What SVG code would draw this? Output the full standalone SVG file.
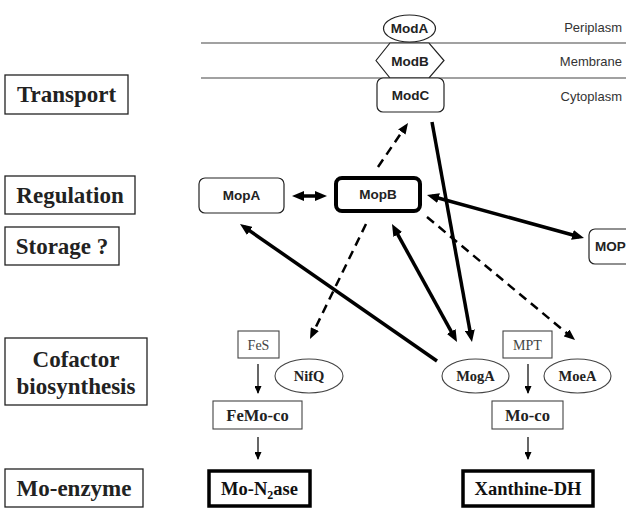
<svg xmlns="http://www.w3.org/2000/svg" width="626" height="508" viewBox="0 0 626 508">
  <style>
    .bg { fill: #ffffff; }
    .cat { fill: #ffffff; stroke: #222; stroke-width: 1.3; }
    .cat-t { font-family: "Liberation Serif", "Times New Roman", serif; font-weight: bold; font-size: 23px; fill: #222; text-anchor: middle; }
    .prot { fill: #ffffff; stroke: #222; stroke-width: 1.2; }
    .prot-thick { fill: #ffffff; stroke: #000; stroke-width: 4; }
    .prot-t { font-family: "Liberation Sans", Arial, sans-serif; font-weight: bold; font-size: 13.5px; fill: #222; text-anchor: middle; }
    .zone-t { font-family: "Liberation Sans", Arial, sans-serif; font-size: 13px; fill: #333; text-anchor: end; }
    .layer { stroke: #444; stroke-width: 1.2; }
    .box { fill: #ffffff; stroke: #444; stroke-width: 1.1; }
    .box-thick { fill: #ffffff; stroke: #000; stroke-width: 3.5; }
    .small-t { font-family: "Liberation Serif", "Times New Roman", serif; font-size: 14px; fill: #444; text-anchor: middle; }
    .co-t { font-family: "Liberation Serif", "Times New Roman", serif; font-weight: bold; font-size: 16.5px; fill: #222; text-anchor: middle; }
    .ell-t { font-family: "Liberation Serif", "Times New Roman", serif; font-weight: bold; font-size: 14.5px; fill: #222; text-anchor: middle; }
    .enz-t { font-family: "Liberation Serif", "Times New Roman", serif; font-weight: bold; font-size: 18.5px; fill: #111; text-anchor: middle; }
    .solid { stroke: #000; stroke-width: 3.5; fill: none; marker-end: url(#head); }
    .both { stroke: #000; stroke-width: 3.5; fill: none; marker-start: url(#head); marker-end: url(#head); }
    .dash { stroke: #000; stroke-width: 2.5; stroke-dasharray: 9 6; fill: none; marker-end: url(#dhead); }
    .thin { stroke: #000; stroke-width: 1.2; fill: none; marker-end: url(#thead); }
  </style>
  <defs>
    <marker id="head" viewBox="0 0 12 10" markerUnits="userSpaceOnUse" markerWidth="12" markerHeight="10" refX="7" refY="5" orient="auto-start-reverse">
      <path d="M0,0 L12,5 L0,10 z" fill="#000"/>
    </marker>
    <marker id="dhead" viewBox="0 0 11 9" markerUnits="userSpaceOnUse" markerWidth="11" markerHeight="9" refX="6" refY="4.5" orient="auto">
      <path d="M0,0 L11,4.5 L0,9 z" fill="#000"/>
    </marker>
    <marker id="thead" viewBox="0 0 8 7" markerUnits="userSpaceOnUse" markerWidth="8" markerHeight="7" refX="7" refY="3.5" orient="auto">
      <path d="M0,0 L8,3.5 L0,7 z" fill="#000"/>
    </marker>
  </defs>

  <rect class="bg" x="0" y="0" width="626" height="508"/>

  <!-- membrane layers -->
  <g id="layers">
    <line class="layer" x1="201" y1="43" x2="626" y2="43"/>
    <line class="layer" x1="201" y1="78" x2="626" y2="78"/>
    <text class="zone-t" x="622" y="32">Periplasm</text>
    <text class="zone-t" x="622" y="66">Membrane</text>
    <text class="zone-t" x="622" y="101">Cytoplasm</text>
  </g>

  <!-- category labels -->
  <g id="cat-transport">
    <rect class="cat" x="5" y="75" width="123" height="39"/>
    <text class="cat-t" x="66.5" y="102">Transport</text>
  </g>
  <g id="cat-regulation">
    <rect class="cat" x="5" y="176" width="130" height="38"/>
    <text class="cat-t" x="70" y="203">Regulation</text>
  </g>
  <g id="cat-storage">
    <rect class="cat" x="5" y="227" width="114" height="38"/>
    <text class="cat-t" x="62" y="254">Storage ?</text>
  </g>
  <g id="cat-cofactor">
    <rect class="cat" x="5" y="338" width="142" height="67"/>
    <text class="cat-t" x="76" y="367">Cofactor</text>
    <text class="cat-t" x="76" y="394">biosynthesis</text>
  </g>
  <g id="cat-enzyme">
    <rect class="cat" x="5" y="469" width="138" height="38"/>
    <text class="cat-t" x="74" y="496">Mo-enzyme</text>
  </g>

  <!-- connectors -->
  <g id="connectors">
    <line class="both" x1="297" y1="196" x2="322" y2="196"/>
    <line class="dash" x1="378" y1="167" x2="405.2" y2="127.1"/>
    <line class="solid" x1="432" y1="122" x2="471.1" y2="337.1"/>
    <line class="both" x1="431.8" y1="196.3" x2="579.2" y2="236.7"/>
    <line class="dash" x1="427" y1="217" x2="571.2" y2="336.8"/>
    <line class="dash" x1="366" y1="224" x2="312.2" y2="334.5"/>
    <line class="solid" x1="437" y1="361" x2="244.1" y2="226.9"/>
    <line class="both" x1="394.4" y1="228.4" x2="454.6" y2="337.6"/>
    <line class="thin" x1="258" y1="364" x2="258" y2="393"/>
    <line class="thin" x1="258" y1="437" x2="258" y2="459"/>
    <line class="thin" x1="528" y1="364" x2="528" y2="393"/>
    <line class="thin" x1="528" y1="437" x2="528" y2="459"/>
  </g>

  <!-- transporter -->
  <g id="ModA">
    <ellipse class="prot" cx="409.5" cy="28.5" rx="26" ry="13.5"/>
    <text class="prot-t" x="409.5" y="33">ModA</text>
  </g>
  <g id="ModB">
    <polygon class="prot" points="376,60.5 390,43 429,43 444,60.5 429,78 390,78"/>
    <text class="prot-t" x="410" y="65.5">ModB</text>
  </g>
  <g id="ModC">
    <rect class="prot" x="377" y="78" width="67" height="34" rx="6"/>
    <text class="prot-t" x="410.5" y="100">ModC</text>
  </g>

  <!-- regulators -->
  <g id="MopA">
    <rect class="prot" x="199" y="178" width="85" height="35" rx="6"/>
    <text class="prot-t" x="241.5" y="200">MopA</text>
  </g>
  <g id="MopB">
    <rect class="prot-thick" x="336" y="178" width="84" height="33" rx="6"/>
    <text class="prot-t" x="378" y="199">MopB</text>
  </g>
  <g id="MOP">
    <rect class="prot" x="589" y="229" width="50" height="35" rx="6"/>
    <text class="prot-t" x="595" y="251" style="text-anchor:start">MOP</text>
  </g>

  <!-- FeMo-co branch -->
  <g id="FeS">
    <rect class="box" x="238" y="331" width="41" height="27"/>
    <text class="small-t" x="258.5" y="350">FeS</text>
  </g>
  <g id="NifQ">
    <ellipse class="box" cx="309" cy="376" rx="34" ry="17"/>
    <text class="ell-t" x="309" y="381">NifQ</text>
  </g>
  <g id="FeMo-co">
    <rect class="box" x="213" y="401" width="89" height="28"/>
    <text class="co-t" x="257.5" y="421">FeMo-co</text>
  </g>
  <g id="Mo-N2ase">
    <rect class="box-thick" x="209" y="471" width="101" height="35"/>
    <text class="enz-t" x="259.5" y="495">Mo-N<tspan font-size="12" dy="4">2</tspan><tspan dy="-4">ase</tspan></text>
  </g>

  <!-- Mo-co branch -->
  <g id="MogA">
    <ellipse class="box" cx="475.5" cy="376" rx="33.5" ry="17"/>
    <text class="ell-t" x="475.5" y="381">MogA</text>
  </g>
  <g id="MPT">
    <rect class="box" x="503" y="331" width="49" height="27"/>
    <text class="small-t" x="527.5" y="350">MPT</text>
  </g>
  <g id="MoeA">
    <ellipse class="box" cx="577.5" cy="376" rx="33.5" ry="17"/>
    <text class="ell-t" x="577.5" y="381">MoeA</text>
  </g>
  <g id="Mo-co">
    <rect class="box" x="492" y="401" width="71" height="28"/>
    <text class="co-t" x="527.5" y="421">Mo-co</text>
  </g>
  <g id="Xanthine-DH">
    <rect class="box-thick" x="463" y="471" width="130" height="35"/>
    <text class="enz-t" x="528" y="495">Xanthine-DH</text>
  </g>
</svg>
